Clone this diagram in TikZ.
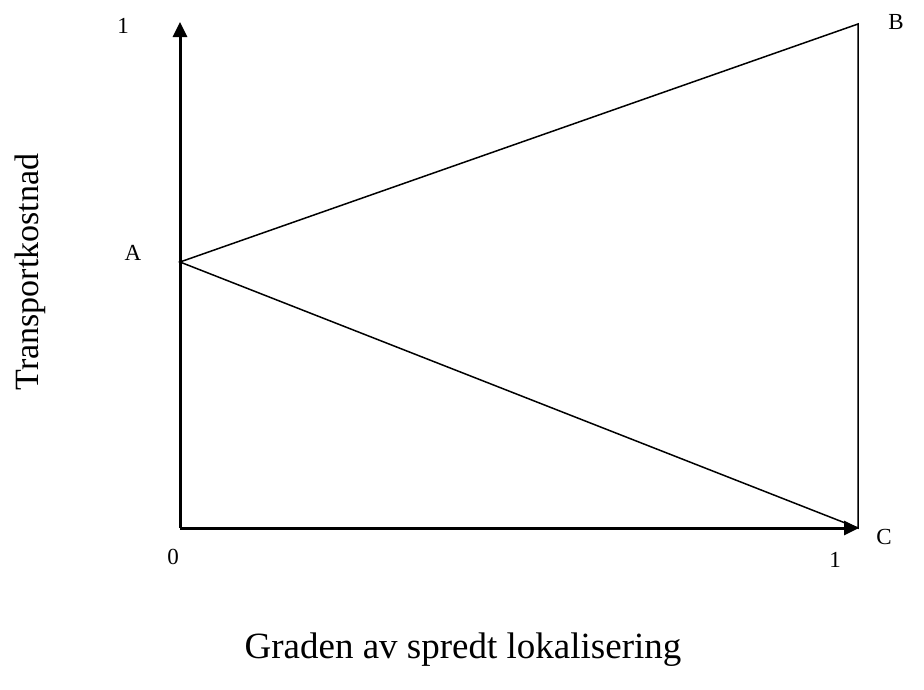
\documentclass[tikz,border=0pt]{standalone}
\usepackage{fontspec}
\setmainfont{Liberation Serif}
\usepackage{tikz}
\usetikzlibrary{arrows.meta}

\begin{document}
\begin{tikzpicture}[x=1pt, y=-1pt,
    axis/.style={line width=3pt, -{Triangle[length=15pt,width=14pt]}},
    edge/.style={line width=1.5pt},
    lbl/.style={font=\fontsize{23}{26}\selectfont, inner sep=0pt},
    title/.style={font=\fontsize{34}{40}\selectfont, inner sep=0pt}]
    \useasboundingbox (0,0) rectangle (924,689);
    % points
    \coordinate (O) at (180,528);
    \coordinate (Ytop) at (180,22);
    \coordinate (Xend) at (859,528);
    \coordinate (A) at (180,262);
    \coordinate (B) at (858,24);
    \coordinate (C) at (858,528);
    % axes
    \draw[axis] (O) -- (Ytop);
    \draw[axis] (O) -- (Xend);
    % triangle
    \draw[edge] (A) -- (B) -- (C) -- cycle;
    % labels
    \node[lbl] (one-y) at (123,26) {1};
    \node[lbl] (lab-a) at (133,253) {A};
    \node[lbl] (lab-b) at (896,22) {B};
    \node[lbl] (lab-c) at (884,537) {C};
    \node[lbl] (zero) at (173,557) {0};
    \node[lbl] (one-x) at (835,560) {1};
    \node[title, rotate=90] (ylab) at (30,272) {Transportkostnad};
    \node[title, font=\fontsize{37}{42}\selectfont] (xlab) at (463,650) {Graden av spredt lokalisering};
\end{tikzpicture}
\end{document}
